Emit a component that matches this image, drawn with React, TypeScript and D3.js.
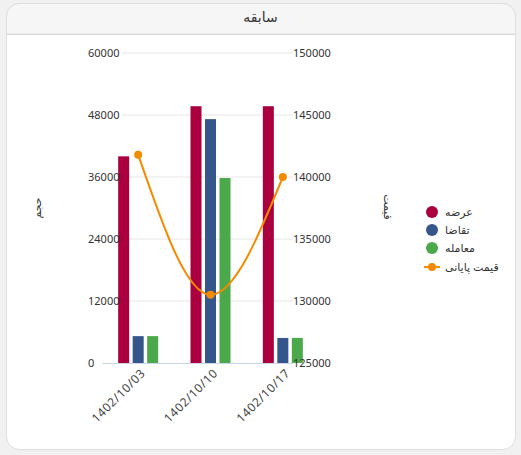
import React from "react";
import * as d3 from "d3";

const categories = ["1402/10/03", "1402/10/10", "1402/10/17"];
const supply = [40000, 49700, 49700];
const demand = [5200, 47200, 4850];
const trades = [5200, 35800, 4850];
const closePrice = [141800, 130500, 140000];

const volumeTicks = [0, 12000, 24000, 36000, 48000, 60000];
const priceTicks = [125000, 130000, 135000, 140000, 145000, 150000];

const barSeries = [
    { name: "عرضه", values: supply, color: "#ab0040" },
    { name: "تقاضا", values: demand, color: "#34568b" },
    { name: "معامله", values: trades, color: "#4ba84b" },
];
const lineName = "قیمت پایانی";
const lineColor = "#f38b00";

const W = 521;
const H = 455;
const plot = { left: 102, right: 319, top: 53, bottom: 363 };
const font = "'Noto Sans', 'DejaVu Sans', sans-serif";

export default function App() {
    const x0 = d3.scaleBand().domain(categories).range([plot.left, plot.right]);
    const x1 = d3.scaleBand()
        .domain(barSeries.map(s => s.name))
        .range([0, 40])
        .paddingInner(0.24);
    const groupInset = (x0.bandwidth() - 40) / 2;

    const yVol = d3.scaleLinear().domain([0, 60000]).range([plot.bottom, plot.top]);
    const yPrice = d3.scaleLinear().domain([125000, 150000]).range([plot.bottom, plot.top]);

    const cx = (c: string) => (x0(c) as number) + x0.bandwidth() / 2;

    const line = d3.line<number>()
        .x((_, i) => cx(categories[i]))
        .y(d => yPrice(d))
        .curve(d3.curveMonotoneX);

    const legendY = [212, 230, 248, 267];
    const midY = (plot.top + plot.bottom) / 2;

    return (
        <svg width={W} height={H} style={{ position: "absolute", left: 0, top: 0, fontFamily: font }}>
            <rect x={0} y={0} width={W} height={H} fill="#f1f1f1" />
            {/* card */}
            <rect x={6.5} y={3.5} width={509} height={446} rx={13} fill="#fff" stroke="#dedede" />
            <path d="M6.5,34 V16.5 A13,13 0 0 1 19.5,3.5 H502.5 A13,13 0 0 1 515.5,16.5 V34 Z"
                fill="#f6f6f6" stroke="#dedede" />
            <line x1={7} x2={515} y1={34.5} y2={34.5} stroke="#dadada" />
            <text x={W / 2} y={22} textAnchor="middle" fontSize={14} fill="#333">سابقه</text>

            {/* grid */}
            {volumeTicks.slice(1).map(t => (
                <line key={t} x1={plot.left + 20} x2={plot.right - 26} y1={yVol(t)} y2={yVol(t)}
                    stroke="#e6e6e6" />
            ))}
            <line x1={plot.left} x2={plot.right - 26} y1={plot.bottom + 0.5} y2={plot.bottom + 0.5}
                stroke="#ccd6eb" />

            {/* bars */}
            {categories.map((c, i) => (
                <g key={c} transform={`translate(${(x0(c) as number) + groupInset},0)`}>
                    {barSeries.map(s => (
                        <rect key={s.name} x={x1(s.name)} width={x1.bandwidth()}
                            y={yVol(s.values[i])} height={plot.bottom - yVol(s.values[i])}
                            fill={s.color} />
                    ))}
                </g>
            ))}

            {/* line */}
            <path d={line(closePrice) || ""} fill="none" stroke={lineColor} strokeWidth={2} />
            {closePrice.map((v, i) => (
                <circle key={i} cx={cx(categories[i])} cy={yPrice(v)} r={4} fill={lineColor} />
            ))}

            {/* left axis */}
            {volumeTicks.map(t => (
                <text key={t} x={88} y={yVol(t)} dy="0.35em" fontSize={11} fill="#333">{t}</text>
            ))}
            {/* right axis */}
            {priceTicks.map(t => (
                <text key={t} x={293} y={yPrice(t)} dy="0.35em" fontSize={11} fill="#333">{t}</text>
            ))}

            {/* x axis labels */}
            {categories.map(c => (
                <text key={c} transform={`translate(${cx(c) + 5},${plot.bottom + 8}) rotate(-45)`}
                    textAnchor="end" dy="0.35em" fontSize={12} letterSpacing={0.6} fill="#444">{c}</text>
            ))}

            {/* axis titles */}
            <text transform={`translate(37,${midY}) rotate(-90)`}
                textAnchor="middle" dy="0.35em" fontSize={11} fill="#333">حجم</text>
            <text transform={`translate(388,${midY - 1}) rotate(90)`}
                textAnchor="middle" dy="0.35em" fontSize={11} fill="#333">قیمت</text>

            {/* legend */}
            {barSeries.map((s, i) => (
                <g key={s.name} transform={`translate(432,${legendY[i]})`}>
                    <circle r={6} fill={s.color} />
                    <text x={13} dy="0.35em" fontSize={11} fill="#333">{s.name}</text>
                </g>
            ))}
            <g transform={`translate(432,${legendY[3]})`}>
                <line x1={-8} x2={8} stroke={lineColor} strokeWidth={2} />
                <circle r={4} fill={lineColor} />
                <text x={13} dy="0.35em" fontSize={11} fill="#333">{lineName}</text>
            </g>
        </svg>
    );
}
